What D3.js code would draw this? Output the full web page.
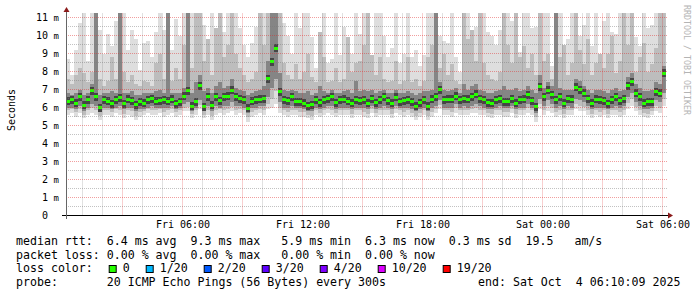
<!DOCTYPE html>
<html><head><meta charset="utf-8">
<script src="https://cdn.jsdelivr.net/npm/d3@7"></script>
<style>
html,body{margin:0;padding:0;background:#fff;}
svg{display:block;}
text{font-family:"DejaVu Sans Mono",monospace;white-space:pre;}
</style></head><body>
<svg id="chart" width="697" height="297"></svg>
<script>
// ---------- data ----------
const startTime = "2025-10-03T00:10:09Z";
const endTime   = "2025-10-04T06:10:09Z";
const stepMinutes = 12;

// median rtt (ms)
const med = [
 6.35,6.42,6.25,6.60,6.13,6.42,6.93,6.60,6.00,6.42,
 6.35,6.20,6.42,6.55,6.20,6.45,6.38,6.15,6.33,6.25,
 6.42,6.50,6.35,6.37,6.42,6.35,6.45,6.20,6.33,6.63,
 6.93,6.08,6.33,7.20,6.05,6.60,6.12,6.60,6.38,6.60,
 6.62,6.97,6.60,6.50,6.42,5.95,6.35,6.42,6.47,6.50,
 7.60,8.55,9.30,6.88,6.42,6.38,6.60,6.33,6.33,6.25,
 6.10,6.14,6.42,6.27,6.42,6.50,6.60,6.27,6.42,6.45,
 6.36,6.23,6.42,6.38,6.42,6.23,6.50,6.27,6.42,6.60,
 6.38,6.23,6.56,6.32,6.38,6.42,6.32,6.08,6.27,6.42,
 6.08,6.45,6.60,7.00,6.42,6.45,6.45,6.63,6.42,6.50,
 6.45,6.60,6.75,6.50,6.42,6.27,6.23,6.42,6.50,6.32,
 6.32,6.50,6.23,6.42,6.45,6.70,6.37,6.05,7.15,6.60,
 6.95,6.70,6.42,6.60,6.23,6.50,6.45,7.12,7.00,6.78,
 6.50,6.23,6.45,6.42,6.38,6.20,6.42,6.60,6.38,6.50,
 7.20,7.43,6.78,6.60,6.23,6.32,6.32,6.88,6.78,7.90
];
// smoke: slowest ping (ms)
const pmax = [
 8.7,7.8,9.2,10.7,11.3,8.6,11.3,11.3,10.3,9.0,
 10.1,9.4,10.8,11.3,11.3,9.2,10.3,9.8,8.1,9.6,
 9.7,8.8,10.2,11.3,10.3,11.3,9.2,10.9,10.0,11.3,
 11.3,11.3,11.3,11.3,10.6,9.8,11.3,10.4,11.3,10.2,
 11.3,11.3,11.3,10.4,9.5,8.8,9.6,10.5,11.3,11.3,
 11.3,11.3,11.3,11.3,10.7,10.0,9.0,11.3,10.4,11.3,
 11.3,9.9,8.2,10.2,11.3,8.5,8.7,11.3,8.9,10.5,
 9.9,9.0,11.3,10.1,11.3,11.3,8.9,11.3,11.3,10.0,
 8.8,9.3,11.3,8.5,9.0,11.3,8.8,9.2,8.3,8.9,
 11.3,11.3,11.3,10.0,9.7,9.6,11.3,8.8,8.0,11.3,
 11.3,10.3,10.5,11.3,11.3,10.2,10.0,9.5,10.3,11.3,
 11.3,10.8,11.3,9.1,11.3,11.3,10.4,10.5,11.3,11.3,
 11.3,8.3,11.3,11.3,9.5,9.8,11.3,11.3,10.0,10.6,
 11.3,9.4,11.3,9.0,10.8,11.3,10.2,10.1,11.3,11.3,
 11.3,11.3,9.9,9.4,11.3,10.4,10.6,11.3,11.3,11.3
];
// smoke: 90th percentile ping (ms)
const p90 = [
 7.6,7.3,7.8,8.2,7.9,7.4,8.0,11.3,7.6,7.2,
 7.5,8.8,7.6,11.3,8.0,7.4,7.8,7.3,7.2,7.5,
 7.4,7.2,8.5,9.0,7.6,11.3,7.5,8.2,7.6,9.5,
 11.3,8.2,11.3,11.3,8.6,9.8,7.8,10.4,11.3,8.8,
 9.5,11.3,9.0,8.2,7.8,7.4,7.6,8.0,11.3,9.5,
 11.3,11.3,11.3,11.3,8.5,7.8,7.6,8.4,7.6,8.0,
 9.0,7.7,7.4,10.2,8.8,7.4,7.5,8.2,7.4,7.6,
 9.9,8.0,8.5,8.6,9.5,11.3,8.9,7.8,8.8,7.6,
 7.4,7.5,8.6,7.3,7.5,8.8,7.4,7.6,7.2,7.5,
 8.8,9.5,11.3,8.2,9.0,7.8,8.4,7.5,7.3,11.3,
 9.8,10.3,8.6,11.3,8.5,7.8,7.6,7.5,8.0,11.3,
 9.5,8.5,11.3,8.8,9.4,8.2,9.0,7.8,11.3,8.6,
 9.0,7.6,11.3,8.8,9.5,7.8,8.5,11.3,9.2,8.4,
 9.8,7.8,8.5,9.0,8.2,9.0,10.0,7.9,8.6,11.3,
 9.5,11.3,8.0,8.8,9.6,8.0,8.4,9.3,11.3,11.3
];
// smoke: 75th percentile ping (ms)
const p75 = [
 6.8,6.7,6.8,7.0,6.7,6.8,7.3,11.3,6.7,6.8,
 6.8,6.9,6.8,11.3,6.8,6.8,6.9,6.7,6.7,6.8,
 6.8,6.8,6.9,7.0,6.8,11.3,6.8,6.8,6.8,7.1,
 11.3,6.8,7.4,7.8,6.9,7.1,6.8,7.2,7.4,7.1,
 7.2,7.6,7.1,7.0,6.9,6.7,6.8,6.9,7.0,7.2,
 8.6,11.3,11.3,7.9,7.0,6.9,7.0,6.9,6.8,6.8,
 6.9,6.7,6.8,7.2,6.9,6.8,7.0,6.8,6.8,6.9,
 7.0,6.8,7.5,6.9,7.0,6.9,7.0,6.8,6.9,7.0,
 6.8,6.8,7.0,6.8,6.8,6.9,6.8,6.7,6.8,6.9,
 6.9,7.0,11.3,7.4,7.0,6.9,7.0,7.1,6.8,7.3,
 7.0,7.2,7.3,7.0,6.9,6.8,6.8,6.9,7.0,7.2,
 7.0,7.0,7.1,6.9,7.0,7.2,7.0,6.8,7.8,7.1,
 7.4,7.2,11.3,7.1,7.0,7.0,7.0,7.6,7.5,7.2,
 7.0,6.8,7.0,7.0,6.9,6.8,7.0,7.1,6.9,7.0,
 7.7,7.9,7.3,7.1,6.9,6.9,7.0,7.4,7.3,8.3
];
// smoke: 25th percentile ping (ms)
const p25 = [
 6.0,6.0,5.9,6.1,5.8,6.0,6.2,6.1,5.8,6.0,
 6.0,5.9,6.0,6.1,5.9,6.0,6.0,5.8,5.9,5.9,
 6.0,6.1,6.0,6.0,6.0,6.0,6.1,5.9,6.0,6.2,
 6.3,5.8,6.0,6.4,5.8,6.1,5.8,6.1,6.0,6.1,
 6.1,6.3,6.1,6.1,6.0,5.7,6.0,6.0,6.1,6.1,
 6.6,7.1,7.6,6.3,6.0,6.0,6.1,6.0,6.0,5.9,
 5.8,5.8,6.0,5.9,6.0,6.1,6.1,5.9,6.0,6.0,
 6.0,5.9,6.0,6.0,6.0,5.9,6.1,5.9,6.0,6.1,
 6.0,5.9,6.1,6.0,6.0,6.0,5.9,5.8,5.9,6.0,
 5.8,6.0,6.1,6.4,6.0,6.0,6.0,6.2,6.0,6.1,
 6.0,6.1,6.2,6.1,6.0,5.9,5.9,6.0,6.1,6.0,
 6.0,6.1,5.9,6.0,6.0,6.2,6.0,5.7,6.5,6.1,
 6.4,6.2,6.0,6.1,5.9,6.1,6.0,6.5,6.4,6.3,
 6.1,5.9,6.0,6.0,6.0,5.9,6.0,6.1,6.0,6.1,
 6.6,6.8,6.3,6.1,5.9,5.9,6.0,6.4,6.3,6.8
];
// smoke: 10th percentile ping (ms)
const p10 = [
 5.85,5.9,5.75,5.9,5.6,5.85,5.95,5.85,5.55,5.85,
 5.85,5.75,5.9,5.85,5.65,5.85,5.8,5.55,5.75,5.8,
 5.9,5.85,5.85,5.9,5.75,5.85,5.9,5.75,5.85,6.0,
 6.05,5.65,5.85,6.15,5.6,5.85,5.55,5.85,5.9,5.85,
 5.9,6.05,5.85,5.9,5.85,5.45,5.75,5.85,5.9,5.85,
 6.2,6.5,6.9,6.0,5.85,5.75,5.85,5.85,5.75,5.75,
 5.6,5.55,5.85,5.7,5.85,5.9,5.85,5.7,5.85,5.85,
 5.85,5.65,5.85,5.85,5.75,5.65,5.9,5.7,5.85,5.85,
 5.85,5.65,5.9,5.85,5.75,5.85,5.7,5.55,5.7,5.85,
 5.55,5.75,5.9,6.15,5.85,5.85,5.75,5.95,5.85,5.85,
 5.85,5.9,5.95,5.85,5.85,5.7,5.65,5.85,5.85,5.75,
 5.75,5.9,5.65,5.85,5.85,5.95,5.85,5.45,6.2,5.85,
 6.1,5.95,5.75,5.85,5.65,5.85,5.85,6.2,6.1,6.05,
 5.85,5.65,5.85,5.75,5.85,5.65,5.85,5.85,5.75,5.85,
 6.25,6.45,6.05,5.85,5.7,5.65,5.8,6.1,6.0,6.45
];
// smoke: fastest ping (ms)
const pmin = [
 5.6,5.7,5.5,5.7,5.4,5.6,5.7,5.6,5.3,5.6,
 5.6,5.5,5.7,5.6,5.4,5.6,5.5,5.3,5.5,5.6,
 5.7,5.6,5.6,5.7,5.5,5.6,5.7,5.5,5.6,5.8,
 5.8,5.4,5.6,5.9,5.4,5.6,5.3,5.6,5.7,5.6,
 5.7,5.8,5.6,5.7,5.6,5.2,5.5,5.6,5.7,5.6,
 5.9,6.0,6.2,5.7,5.6,5.5,5.6,5.6,5.5,5.5,
 5.4,5.3,5.6,5.5,5.6,5.7,5.6,5.5,5.6,5.6,
 5.6,5.4,5.6,5.6,5.5,5.4,5.7,5.5,5.6,5.6,
 5.6,5.4,5.7,5.6,5.5,5.6,5.5,5.3,5.5,5.6,
 5.3,5.5,5.7,5.9,5.6,5.6,5.5,5.7,5.6,5.6,
 5.6,5.7,5.7,5.6,5.6,5.5,5.4,5.6,5.6,5.5,
 5.5,5.7,5.4,5.6,5.6,5.7,5.6,5.2,5.9,5.6,
 5.8,5.7,5.5,5.6,5.4,5.6,5.6,5.9,5.8,5.8,
 5.6,5.4,5.6,5.5,5.6,5.4,5.6,5.6,5.5,5.6,
 5.9,6.1,5.8,5.6,5.5,5.4,5.6,5.8,5.7,6.1
];

const yTickValues = [0,1,2,3,4,5,6,7,8,9,10,11];
const yTickLabels = ["0","1","2","3","4","5","6","7","8","9","10","11"];
const yUnit = "m";
const xTickTimes = ["2025-10-03T06:00:00Z","2025-10-03T12:00:00Z","2025-10-03T18:00:00Z","2025-10-04T00:00:00Z","2025-10-04T06:00:00Z"];
const xTickLabels = ["Fri 06:00","Fri 12:00","Fri 18:00","Sat 00:00","Sat 06:00"];
const lossLabels = ["0","1/20","2/20","3/20","4/20","10/20","19/20"];
const lossColors = ["#26ff00","#00b8ff","#0059ff","#5e00ff","#7e00ff","#dd00ff","#ff0000"];
const statLines = [
 "median rtt:  6.4 ms avg  9.3 ms max   5.9 ms min  6.3 ms now  0.3 ms sd  19.5   am/s",
 "packet loss: 0.00 % avg  0.00 % max   0.00 % min  0.00 % now",
 "loss color:",
 "probe:       20 ICMP Echo Pings (56 Bytes) every 300s"
];
const endLabel = "end: Sat Oct  4 06:10:09 2025";
const yTitle = "Seconds";
const watermark = "RRDTOOL / TOBI OETIKER";

// ---------- drawing ----------
const svg = d3.select("#chart");
const t0 = new Date(startTime), t1 = new Date(endTime);
const x = d3.scaleUtc().domain([t0, t1]).range([65.88, 665.88]);
const y = d3.scaleLinear().domain([0, 11]).range([215.5, 17.5]);
const plotTop = 13;
const N = med.length;
const tStart = i => d3.utcMinute.offset(t0, i * stepMinutes);
const tStop  = i => d3.utcMinute.offset(t0, (i + 1) * stepMinutes);

svg.append("rect").attr("width",697).attr("height",297).attr("fill","#fff");

svg.append("defs").append("clipPath").attr("id","plotclip")
  .append("rect").attr("x", x(t0)).attr("y", plotTop)
  .attr("width", x(t1) - x(t0)).attr("height", y(0) - plotTop);

const plot = svg.append("g").attr("clip-path","url(#plotclip)");
const bands = [
  {lo: pmin, hi: pmax, color: "#dedede"},
  {lo: p10,  hi: p90,  color: "#bdbdbd"},
  {lo: p25,  hi: p75,  color: "#858585"}
];
bands.forEach(b => {
  plot.append("g").selectAll("rect").data(d3.range(N)).join("rect")
    .attr("x", i => x(tStart(i)))
    .attr("width", i => x(tStop(i)) - x(tStart(i)))
    .attr("y", i => y(b.hi[i]))
    .attr("height", i => y(b.lo[i]) - y(b.hi[i]))
    .attr("fill", b.color)
    .attr("shape-rendering","crispEdges");
});
// dark core of the smoke right around the median
plot.append("g").selectAll("rect").data(d3.range(N)).join("rect")
  .attr("x", i => x(tStart(i)))
  .attr("width", i => x(tStop(i)) - x(tStart(i)))
  .attr("y", i => y(med[i]) - 4)
  .attr("height", 8)
  .attr("fill", "#454545")
  .attr("shape-rendering","crispEdges");

// grid (drawn over smoke, like rrdtool)
const grid = svg.append("g");
const xMax = 668;
const halfSteps = d3.range(1, 23).map(k => k / 2);
halfSteps.forEach(v => {
  const major = Number.isInteger(v);
  grid.append("line").attr("x1", 66).attr("x2", xMax)
    .attr("y1", y(v)).attr("y2", y(v))
    .attr("stroke", major ? "rgba(225,40,40,0.45)" : "rgba(120,120,120,0.45)")
    .attr("stroke-dasharray","1,1");
});
d3.utcHour.every(1).range(t0, t1).forEach(t => {
  const major = t.getUTCHours() % 3 === 0;
  const xx = Math.round(x(t)) + 0.5;
  grid.append("line").attr("x1", xx).attr("x2", xx)
    .attr("y1", y(0)).attr("y2", plotTop)
    .attr("stroke", major ? "rgba(225,40,40,0.45)" : "rgba(120,120,120,0.45)")
    .attr("stroke-dasharray","1,1");
});

// median boxes (coloured by loss: 0)
plot.append("g").selectAll("rect").data(d3.range(N)).join("rect")
  .attr("x", i => x(tStart(i)))
  .attr("width", i => x(tStop(i)) - x(tStart(i)))
  .attr("y", i => y(med[i]) - 1.5)
  .attr("height", 3)
  .attr("fill", lossColors[0])
  .attr("shape-rendering","crispEdges");

// axes
const axisG = svg.append("g");
axisG.append("line").attr("x1",62).attr("x2",669).attr("y1",y(0)).attr("y2",y(0))
  .attr("stroke","#000").attr("stroke-width",1);
axisG.append("path").attr("d", `M668,${y(0)-3}L673,${y(0)}L668,${y(0)+3}Z`).attr("fill","#8b1a1a");
axisG.append("line").attr("x1",66.5).attr("x2",66.5).attr("y1",219).attr("y2",11)
  .attr("stroke","#666").attr("stroke-width",1);
axisG.append("path").attr("d", "M63.5,12L66.5,7L69.5,12Z").attr("fill","#8b1a1a");

// y labels
yTickValues.forEach((v, k) => {
  axisG.append("text").attr("x", 48).attr("y", y(v) + 3.6)
    .attr("text-anchor","end").attr("font-size",10).attr("fill","#000")
    .text(yTickLabels[k]);
  if (v !== 0) axisG.append("text").attr("x", 53.5).attr("y", y(v) + 3.3)
    .attr("font-size",9).attr("fill","#000").text(yUnit);
});
// x labels
xTickTimes.forEach((s, k) => {
  axisG.append("text").attr("x", x(new Date(s)) + 0.5).attr("y", 228)
    .attr("text-anchor","middle").attr("font-size",10).attr("fill","#000")
    .text(xTickLabels[k]);
});

// y title
svg.append("text").attr("transform","translate(14.5,110) rotate(-90)")
  .attr("text-anchor","middle").attr("font-size",10).attr("fill","#000").text(yTitle);
// watermark
svg.append("text").attr("transform","translate(683.5,5) rotate(90)")
  .attr("font-size",8.3).attr("fill","#b4b4b4").text(watermark);

// legend / stats
const baseY = [245, 258.5, 272, 285.5];
statLines.forEach((s, k) => {
  svg.append("text").attr("x",16).attr("y",baseY[k]).attr("font-size",11.6)
    .attr("fill","#000").text(s);
});
svg.append("text").attr("x",478).attr("y",baseY[3]).attr("font-size",11.6)
  .attr("fill","#000").text(endLabel);
let L = 108.7;
lossLabels.forEach((lab, k) => {
  svg.append("rect").attr("x", L + 0.5).attr("y", 265.5).attr("width",7).attr("height",7)
    .attr("fill", lossColors[k]).attr("stroke","#000").attr("stroke-width",1);
  svg.append("text").attr("x", L + 14).attr("y", baseY[2]).attr("font-size",11.6)
    .attr("fill","#000").text(lab);
  L += 14 + lab.length * 7 + 16;
});
</script>
</body></html>
